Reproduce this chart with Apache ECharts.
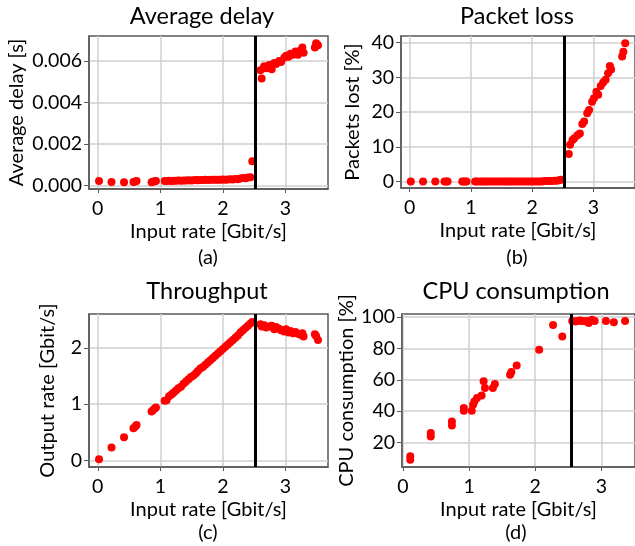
<!DOCTYPE html>
<html>
<head>
<meta charset="utf-8">
<script src="https://cdn.jsdelivr.net/npm/echarts@6/dist/echarts.min.js"></script>
<style>
html,body{margin:0;padding:0;background:#fff;}
#chart{width:635px;height:546px;}
</style>
</head>
<body>
<div id="chart"></div>
<script>
// Shared input rates (Gbit/s) for panels a, b, c
const inputRate = [
  0.02, 0.22, 0.42, 0.57, 0.60, 0.62, 0.86, 0.88, 0.91, 0.93,
  1.07, 1.10, 1.14, 1.18, 1.21, 1.25, 1.29, 1.33, 1.37, 1.41,
  1.45, 1.49, 1.53, 1.57, 1.60, 1.64, 1.68, 1.72, 1.76, 1.80,
  1.84, 1.88, 1.92, 1.96, 2.00, 2.04, 2.08, 2.12, 2.16, 2.20,
  2.24, 2.28, 2.32, 2.36, 2.40, 2.44, 2.47,
  2.60, 2.62, 2.66, 2.69, 2.74, 2.78, 2.82, 2.85, 2.90, 2.93,
  2.98, 3.01, 3.05, 3.08, 3.12, 3.16, 3.20, 3.24, 3.27, 3.29,
  3.47, 3.49, 3.52
];
// (a) average delay [s]
const avgDelay = [
  0.00022, 0.00018, 0.00017, 0.00018, 0.00020, 0.00022, 0.00017, 0.00019, 0.00021, 0.00022,
  0.00023, 0.00022, 0.00024, 0.00023, 0.00024, 0.00024, 0.00025, 0.00024, 0.00025, 0.00025,
  0.00026, 0.00025, 0.00026, 0.00027, 0.00026, 0.00027, 0.00027, 0.00028, 0.00027, 0.00028,
  0.00028, 0.00029, 0.00028, 0.00029, 0.00030, 0.00029, 0.00030, 0.00031, 0.00030, 0.00032,
  0.00031, 0.00034, 0.00037, 0.00036, 0.00039, 0.00040, 0.00118,
  0.00555, 0.00515, 0.00575, 0.00565, 0.00580, 0.00560, 0.00590, 0.00585, 0.00600, 0.00595,
  0.00615, 0.00625, 0.00620, 0.00635, 0.00630, 0.00645, 0.00630, 0.00650, 0.00665, 0.00640,
  0.00665, 0.00685, 0.00675
];
// (b) packets lost [%]
const packetLoss = [
  0.1, 0.1, 0.1, 0.1, 0.1, 0.1, 0.1, 0.1, 0.1, 0.1,
  0.1, 0.1, 0.1, 0.1, 0.1, 0.1, 0.1, 0.1, 0.1, 0.1,
  0.1, 0.1, 0.1, 0.1, 0.1, 0.1, 0.1, 0.1, 0.1, 0.1,
  0.1, 0.1, 0.1, 0.1, 0.1, 0.1, 0.1, 0.1, 0.1, 0.2,
  0.2, 0.2, 0.2, 0.3, 0.3, 0.4, 0.6,
  8.0, 10.6, 12.0, 12.5, 13.4, 13.9, 16.6, 17.3, 19.7, 20.6,
  23.0, 24.0, 25.9, 25.0, 27.5, 28.5, 29.3, 31.2, 33.3, 32.3,
  36.0, 37.4, 39.8
];
// (c) output rate [Gbit/s]
const outputRate = [
  0.02, 0.23, 0.41, 0.57, 0.60, 0.63, 0.87, 0.89, 0.92, 0.94,
  1.06, 1.07, 1.14, 1.17, 1.20, 1.24, 1.28, 1.31, 1.36, 1.40,
  1.44, 1.48, 1.51, 1.55, 1.59, 1.63, 1.66, 1.70, 1.74, 1.78,
  1.82, 1.86, 1.90, 1.94, 1.98, 2.02, 2.06, 2.10, 2.14, 2.18,
  2.22, 2.27, 2.31, 2.35, 2.39, 2.43, 2.46,
  2.42, 2.38, 2.40, 2.36, 2.38, 2.39, 2.33, 2.37, 2.34, 2.31,
  2.29, 2.33, 2.27, 2.30, 2.26, 2.28, 2.25, 2.23, 2.26, 2.20,
  2.24, 2.21, 2.14
];
// (d) CPU consumption
const cpuRate = [
  0.11, 0.11, 0.42, 0.42, 0.74, 0.74, 0.92, 0.92, 1.04, 1.06,
  1.08, 1.12, 1.19, 1.22, 1.24, 1.36, 1.39, 1.62, 1.64, 1.72,
  2.06, 2.27, 2.41, 2.56, 2.61, 2.64, 2.68, 2.71, 2.76, 2.79,
  2.81, 2.86, 2.90, 3.07, 3.19, 3.36
];
const cpuUsage = [
  11.1, 9.0, 26.0, 23.8, 33.4, 30.8, 42.0, 40.2, 40.2, 44.0,
  46.2, 48.3, 50.0, 59.0, 54.7, 54.7, 57.3, 63.2, 64.9, 69.1,
  79.1, 95.0, 87.6, 97.6, 97.2, 97.6, 97.8, 97.6, 97.4, 97.6,
  96.2, 98.3, 97.6, 97.6, 96.8, 97.6
];
// Saturation thresholds (vertical black lines)
const thresholds = [2.52, 2.53, 2.52, 2.55];
// Text
const titles = ['Average delay', 'Packet loss', 'Throughput', 'CPU consumption'];
const subLabels = ['(a)', '(b)', '(c)', '(d)'];
const xName = 'Input rate [Gbit/s]';
const yNames = ['Average delay [s]', 'Packets lost [%]', 'Output rate [Gbit/s]', 'CPU consumption [%]'];
const xTicks = [0, 1, 2, 3];
const yTicks = [
  [0, 0.002, 0.004, 0.006],
  [0, 10, 20, 30, 40],
  [0, 1, 2],
  [20, 40, 60, 80, 100]
];

const FONT = 'Lato';
const chart = echarts.init(document.getElementById('chart'), null, {renderer: 'canvas'});

const grids = [
  {left: 89, top: 36, width: 239, height: 153},
  {left: 401, top: 36, width: 239, height: 152},
  {left: 89, top: 314, width: 239, height: 153},
  {left: 402, top: 314, width: 236, height: 153}
];
const xRanges = [[-0.14, 3.68], [-0.14, 3.68], [-0.14, 3.68], [-0.015, 3.51]];
const yRanges = [[-0.00016, 0.0072], [-1.8, 41.9], [-0.117, 2.6], [4.3, 102]];
const yNameGaps = [62, 38, 31, 45];
const yFormatters = [v => v.toFixed(3), v => String(v), v => String(v), v => String(v)];

const axisColor = '#595959';
const gridColor = '#cfcfcf';

const xAxes = grids.map((g, i) => ({
  type: 'value', gridIndex: i, min: xRanges[i][0], max: xRanges[i][1],
  name: xName, nameLocation: 'middle', nameGap: 33,
  nameTextStyle: {fontFamily: FONT, fontSize: 20, color: '#000'},
  axisLine: {show: true, onZero: false, lineStyle: {color: axisColor, width: 1.5}},
  axisTick: {show: true, customValues: xTicks, length: 4, lineStyle: {color: axisColor, width: 1}},
  axisLabel: {customValues: xTicks, margin: 10, fontFamily: FONT, fontSize: 19.5, color: '#000'},
  splitLine: {show: true, lineStyle: {color: gridColor, width: 1.5}}
}));
const yAxes = grids.map((g, i) => ({
  type: 'value', gridIndex: i, min: yRanges[i][0], max: yRanges[i][1],
  name: yNames[i], nameLocation: 'middle', nameGap: yNameGaps[i],
  nameTextStyle: {fontFamily: FONT, fontSize: 20, color: '#000'},
  axisLine: {show: true, onZero: false, lineStyle: {color: axisColor, width: 1.5}},
  axisTick: {show: true, customValues: yTicks[i], length: 5, lineStyle: {color: axisColor, width: 1}},
  axisLabel: {customValues: yTicks[i], margin: 7, fontFamily: FONT, fontSize: 19.5, color: '#000',
              formatter: yFormatters[i]},
  splitLine: {show: true, lineStyle: {color: gridColor, width: 1.5}}
}));

function pairs(xs, ys) { return xs.map((x, k) => [x, ys[k]]); }
const seriesData = [
  pairs(inputRate, avgDelay),
  pairs(inputRate, packetLoss),
  pairs(inputRate, outputRate),
  pairs(cpuRate, cpuUsage)
];

const series = seriesData.map((d, i) => ({
  type: 'scatter', xAxisIndex: i, yAxisIndex: i, data: d,
  symbolSize: 8, itemStyle: {color: '#ff0000', opacity: 1},
  z: 3,
  markLine: {
    silent: true, symbol: 'none', animation: false,
    label: {show: false},
    lineStyle: {color: '#000', width: 3, type: 'solid'},
    data: [{xAxis: thresholds[i]}]
  }
}));

const titlePos = [[202, 16], [517, 16], [207, 291], [516, 291]];
const subPos = [[208, 258], [517, 258], [208, 533], [516, 533]];
const graphics = [];
titles.forEach((t, i) => graphics.push({
  type: 'text', x: titlePos[i][0], y: titlePos[i][1],
  style: {text: t, fontFamily: FONT, fontSize: 23.5, fill: '#000', align: 'center', verticalAlign: 'middle'}
}));
subLabels.forEach((t, i) => graphics.push({
  type: 'text', x: subPos[i][0], y: subPos[i][1],
  style: {text: t, fontFamily: FONT, fontSize: 20, fill: '#000', align: 'center', verticalAlign: 'middle'}
}));

chart.setOption({
  animation: false,
  grid: grids.map(g => Object.assign({show: true, borderColor: axisColor, borderWidth: 1.5, backgroundColor: 'transparent'}, g)),
  xAxis: xAxes,
  yAxis: yAxes,
  series: series,
  graphic: graphics
});
</script>
</body>
</html>
